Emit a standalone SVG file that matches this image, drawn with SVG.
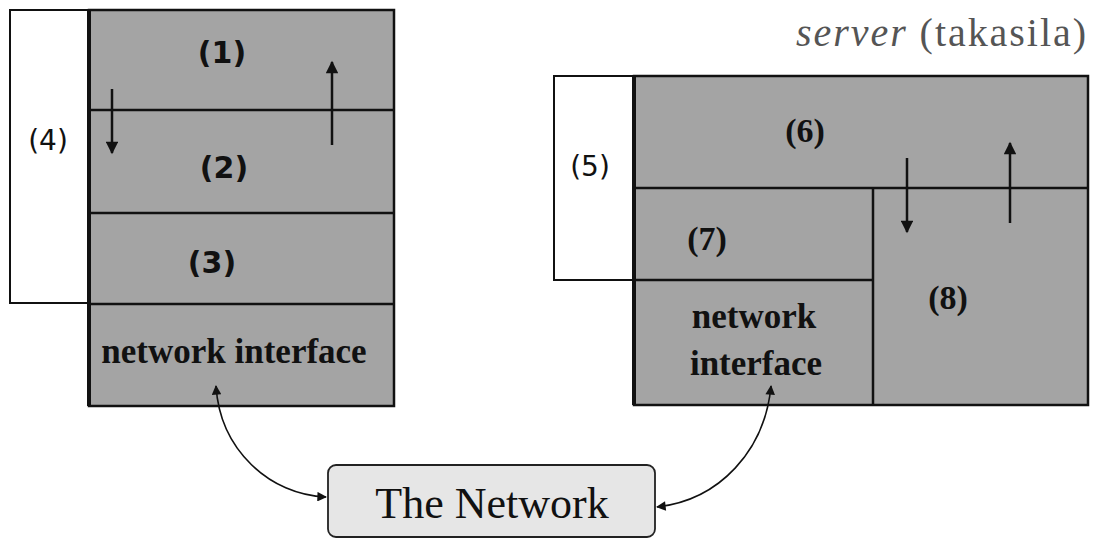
<svg xmlns="http://www.w3.org/2000/svg" width="1098" height="540" viewBox="0 0 1098 540">
<style>
.bg{fill:#ffffff}
.white{fill:#ffffff;stroke:#111;stroke-width:2}
.gray{fill:#a4a4a4;stroke:#111;stroke-width:2.5}
.div{stroke:#111;stroke-width:2.5;fill:none}
.arr{stroke:#111;stroke-width:2.5;fill:none}
.conn{stroke:#111;stroke-width:1.6;fill:none}
.num{font-family:"DejaVu Sans",sans-serif;font-weight:bold;font-size:30px;fill:#111;text-anchor:middle}
.numS{font-family:"Liberation Serif",serif;font-weight:bold;font-size:34px;fill:#111;text-anchor:middle}
.side{font-family:"DejaVu Sans",sans-serif;font-size:28px;fill:#111;text-anchor:middle}
.ni{font-family:"Liberation Serif",serif;font-weight:bold;font-size:35px;fill:#111;text-anchor:middle}
.net{font-family:"Liberation Serif",serif;font-size:44px;fill:#111;text-anchor:middle}
.srv{font-family:"Liberation Serif",serif;font-size:40px;fill:#555}
</style>
<defs>
<marker id="ah" viewBox="0 0 10 10" refX="9" refY="5" markerWidth="5.5" markerHeight="5" orient="auto-start-reverse" markerUnits="strokeWidth">
<path d="M0,0 L10,5 L0,10 z" fill="#111"/>
</marker>
<marker id="ah2" viewBox="0 0 10 10" refX="9" refY="5" markerWidth="7" markerHeight="6" orient="auto-start-reverse" markerUnits="strokeWidth">
<path d="M0,0 L10,5 L0,10 z" fill="#111"/>
</marker>
</defs>
<rect class="bg" x="0" y="0" width="1098" height="540"/>

<g id="client">
<rect class="white" x="10" y="10" width="79" height="293"/>
<text class="side" x="48" y="150">(4)</text>
<rect class="gray" x="89" y="10" width="305" height="396"/>
<line class="div" x1="89" y1="110" x2="394" y2="110"/>
<line class="div" x1="89" y1="213" x2="394" y2="213"/>
<line class="div" x1="89" y1="304" x2="394" y2="304"/>
<line class="div" x1="89" y1="10" x2="89" y2="406" style="stroke-width:4"/>
<text class="num" x="222" y="63">(1)</text>
<text class="num" x="224" y="178">(2)</text>
<text class="num" x="212" y="273">(3)</text>
<text class="ni" x="234" y="363">network interface</text>
<line class="arr" x1="112" y1="89" x2="112" y2="153" marker-end="url(#ah)"/>
<line class="arr" x1="332" y1="145" x2="332" y2="62" marker-end="url(#ah)"/>
</g>

<g id="server">
<text class="srv" x="796" y="46" textLength="290" lengthAdjust="spacing"><tspan font-style="italic">server</tspan> (takasila)</text>
<rect class="white" x="554" y="76" width="80" height="204"/>
<text class="side" x="590" y="176">(5)</text>
<rect class="gray" x="634" y="76" width="454" height="329"/>
<line class="div" x1="634" y1="188" x2="1088" y2="188"/>
<line class="div" x1="873" y1="188" x2="873" y2="405"/>
<line class="div" x1="634" y1="280" x2="873" y2="280"/>
<line class="div" x1="634" y1="76" x2="634" y2="405" style="stroke-width:4"/>
<text class="numS" x="805" y="142">(6)</text>
<text class="numS" x="707" y="250">(7)</text>
<text class="numS" x="948" y="309">(8)</text>
<text class="ni" x="754" y="328">network</text>
<text class="ni" x="756" y="375">interface</text>
<line class="arr" x1="907" y1="158" x2="907" y2="232" marker-end="url(#ah)"/>
<line class="arr" x1="1010" y1="223" x2="1010" y2="143" marker-end="url(#ah)"/>
</g>

<g id="network">
<rect x="328" y="465" width="327" height="72" rx="8" ry="8" fill="#e6e6e6" stroke="#222" stroke-width="1.8"/>
<text class="net" x="492" y="518">The Network</text>
</g>

<g id="connectors">
<path class="conn" d="M216,386 C220,450 270,495 326,497" marker-start="url(#ah2)" marker-end="url(#ah2)"/>
<path class="conn" d="M771,386 C765,450 720,500 657,507" marker-start="url(#ah2)" marker-end="url(#ah2)"/>
</g>
</svg>
